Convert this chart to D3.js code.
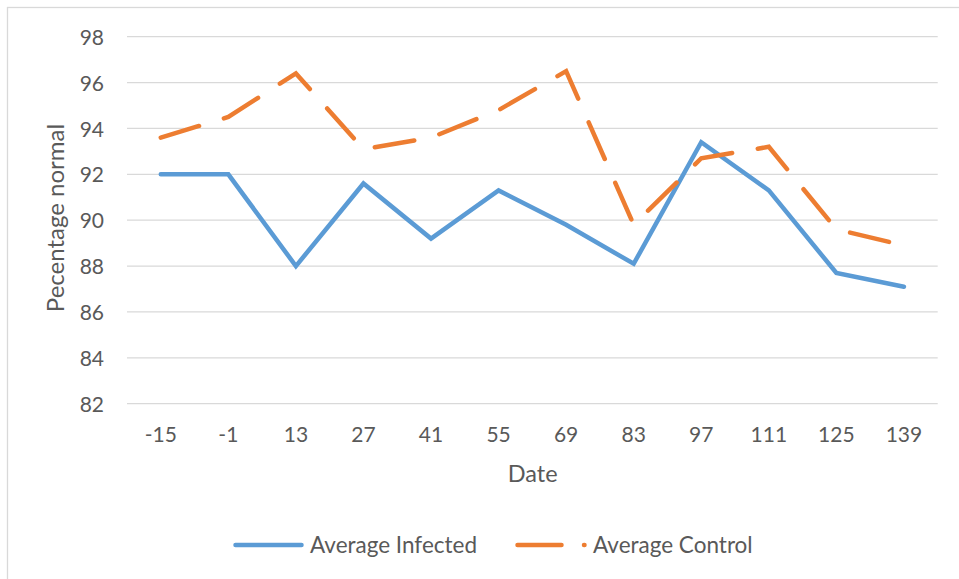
<!DOCTYPE html>
<html>
<head>
<meta charset="utf-8">
<script src="https://cdn.jsdelivr.net/npm/d3@7"></script>
<style>
  html, body { margin: 0; padding: 0; background: #ffffff; }
  svg text { font-family: Lato, "Open Sans", sans-serif; fill: #595959; }
</style>
</head>
<body>
<svg id="chart" width="959" height="579"></svg>
<script>
// Sampling days and the two group averages
const dates = ["-15", "-1", "13", "27", "41", "55", "69", "83", "97", "111", "125", "139"];
const infected = [92.0, 92.0, 88.0, 91.6, 89.2, 91.3, 89.8, 88.1, 93.4, 91.3, 87.7, 87.1];
const control = [93.6, 94.5, 96.4, 93.1, 93.6, 94.8, 96.5, 89.8, 92.7, 93.2, 89.6, 88.9];
const yTicks = [82, 84, 86, 88, 90, 92, 94, 96, 98];
const seriesNames = ["Average Infected", "Average Control"];

const svg = d3.select("#chart");
const W = 959, H = 579;

svg.append("rect").attr("x", 0).attr("y", 0).attr("width", W).attr("height", H).attr("fill", "#ffffff");
// chart frame
svg.append("rect")
  .attr("x", 7.5).attr("y", 7.5).attr("width", W + 10).attr("height", H + 10)
  .attr("fill", "none").attr("stroke", "#d9d9d9").attr("stroke-width", 1.3);

const plot = { left: 127, right: 937.7, top: 36.7, bottom: 403.7 };

const x = d3.scaleBand().domain(dates).range([plot.left, plot.right]);
const y = d3.scaleLinear().domain([82, 98]).range([plot.bottom, plot.top]);
const cx = d => x(d) + x.bandwidth() / 2;

// horizontal gridlines
svg.append("g").selectAll("line").data(yTicks).join("line")
  .attr("x1", plot.left).attr("x2", plot.right)
  .attr("y1", d => y(d)).attr("y2", d => y(d))
  .attr("stroke", "#d9d9d9").attr("stroke-width", 1.3);

// y axis labels
const yAxis = d3.axisLeft(y).tickValues(yTicks).tickSize(0).tickPadding(0).tickFormat(d3.format("d"));
const gy = svg.append("g").attr("transform", `translate(104,0)`).call(yAxis);
gy.select(".domain").remove();
gy.selectAll("text").attr("font-size", 21).attr("font-family", "Lato, 'Open Sans', sans-serif")
  .attr("fill", "#595959").attr("dy", "0.36em");

// x axis labels
const xAxis = d3.axisBottom(x).tickSize(0).tickPadding(0);
const gx = svg.append("g").attr("transform", `translate(0,${plot.bottom})`).call(xAxis);
gx.select(".domain").remove();
gx.selectAll("text").attr("font-size", 21).attr("font-family", "Lato, 'Open Sans', sans-serif")
  .attr("fill", "#595959").attr("y", 38).attr("dy", 0);

// axis titles
svg.append("text").attr("x", 532.7).attr("y", 481.7).attr("text-anchor", "middle")
  .attr("font-size", 23.5).text("Date");
svg.append("text").attr("transform", "translate(64,218) rotate(-90)")
  .attr("text-anchor", "middle").attr("font-size", 24).text("Pecentage normal");

// series lines
const line = d3.line().x((v, i) => cx(dates[i])).y(v => y(v));

svg.append("path").datum(infected).attr("d", line)
  .attr("fill", "none").attr("stroke", "#5b9bd5").attr("stroke-width", 4.5)
  .attr("stroke-linecap", "round").attr("stroke-linejoin", "miter");

svg.append("path").datum(control).attr("d", line)
  .attr("fill", "none").attr("stroke", "#ed7d31").attr("stroke-width", 4.5)
  .attr("stroke-linecap", "round").attr("stroke-linejoin", "miter")
  .attr("stroke-dasharray", "40,26");

// legend
const legY = 545;
svg.append("line").attr("x1", 235.5).attr("x2", 301.5).attr("y1", legY).attr("y2", legY)
  .attr("stroke", "#5b9bd5").attr("stroke-width", 4.5).attr("stroke-linecap", "round");
svg.append("text").attr("x", 310).attr("y", 552.7).attr("font-size", 22.5).text(seriesNames[0]);

svg.append("line").attr("x1", 517.5).attr("x2", 584.5).attr("y1", legY).attr("y2", legY)
  .attr("stroke", "#ed7d31").attr("stroke-width", 4.5).attr("stroke-linecap", "round")
  .attr("stroke-dasharray", "44,22.5");
svg.append("text").attr("x", 593).attr("y", 552.7).attr("font-size", 22.5).text(seriesNames[1]);
</script>
</body>
</html>
